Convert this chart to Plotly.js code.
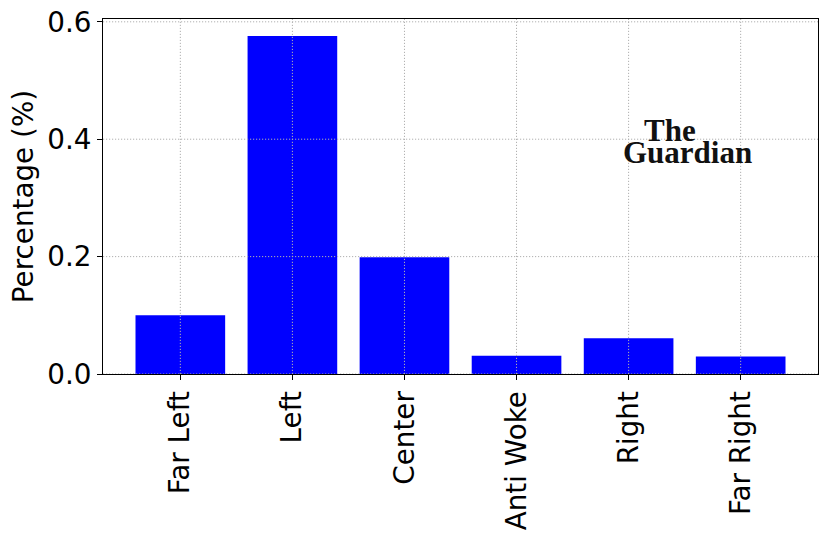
<!DOCTYPE html>
<html>
<head>
<meta charset="utf-8">
<script src="https://cdn.plot.ly/plotly-3.0.1.min.js"></script>
<style>html,body{margin:0;padding:0;background:#fff;}#chart{width:830px;height:542px;}</style>
</head>
<body>
<div id="chart"></div>
<script>
const categories = ["Far Left", "Left", "Center", "Anti Woke", "Right", "Far Right"];
const percentages = [0.1, 0.576, 0.199, 0.031, 0.061, 0.030];
const yTicks = [0.0, 0.2, 0.4, 0.6];
const logoLines = ["The", "Guardian"];

const font = {family: "DejaVu Sans, sans-serif", size: 27.8, color: "#000"};
const yMax = Math.max(...percentages) * 1.05;
const xMin = -0.4 - 0.05 * (categories.length - 1 + 0.8);
const xMax = categories.length - 1 + 0.4 + 0.05 * (categories.length - 1 + 0.8);

const gridStyle = {color: "#b0b0b0", width: 1, dash: "1.2px,1.8px"};
const shapes = [];
categories.forEach((c, i) => shapes.push({type: "line", layer: "above", xref: "x", yref: "paper", x0: i, x1: i, y0: 0, y1: 1, line: gridStyle}));
yTicks.forEach(v => shapes.push({type: "line", layer: "above", xref: "paper", yref: "y", x0: 0, x1: 1, y0: v, y1: v, line: gridStyle}));

const trace = {
  type: "bar",
  x: categories.map((c, i) => i),
  y: percentages,
  width: 0.8,
  marker: {color: "#0000ff", line: {width: 0}},
  hoverinfo: "skip"
};

const logoFont = {family: "Liberation Serif, DejaVu Serif, serif", size: 31, color: "#111", weight: "bold"};

const layout = {
  width: 830, height: 542,
  margin: {l: 103, r: 12, t: 19, b: 168},
  paper_bgcolor: "#fff", plot_bgcolor: "#fff",
  showlegend: false,
  font: font,
  xaxis: {
    range: [xMin, xMax],
    tickmode: "array",
    tickvals: categories.map((c, i) => i),
    ticktext: categories,
    tickangle: -90,
    ticks: "outside", ticklen: 5, tickwidth: 1, tickcolor: "#000",
    showline: true, linecolor: "#000", linewidth: 1, mirror: true,
    showgrid: false, zeroline: false,
    tickfont: font,
    fixedrange: true
  },
  yaxis: {
    range: [0, yMax],
    tickmode: "array",
    tickvals: yTicks,
    ticktext: yTicks.map(v => v.toFixed(1)),
    ticks: "outside", ticklen: 5, tickwidth: 1, tickcolor: "#000",
    showline: true, linecolor: "#000", linewidth: 1, mirror: true,
    showgrid: false, zeroline: false,
    tickfont: font,
    title: {text: "Percentage (%)", font: font, standoff: 5},
    fixedrange: true
  },
  shapes: shapes,
  annotations: [
    {text: logoLines[0], xref: "paper", yref: "paper", x: 0.793, y: 0.686, xanchor: "center", yanchor: "middle", showarrow: false, font: logoFont},
    {text: logoLines[1], xref: "paper", yref: "paper", x: 0.818, y: 0.624, xanchor: "center", yanchor: "middle", showarrow: false, font: logoFont}
  ]
};

Plotly.newPlot("chart", [trace], layout, {displayModeBar: false, staticPlot: true});
</script>
</body>
</html>
